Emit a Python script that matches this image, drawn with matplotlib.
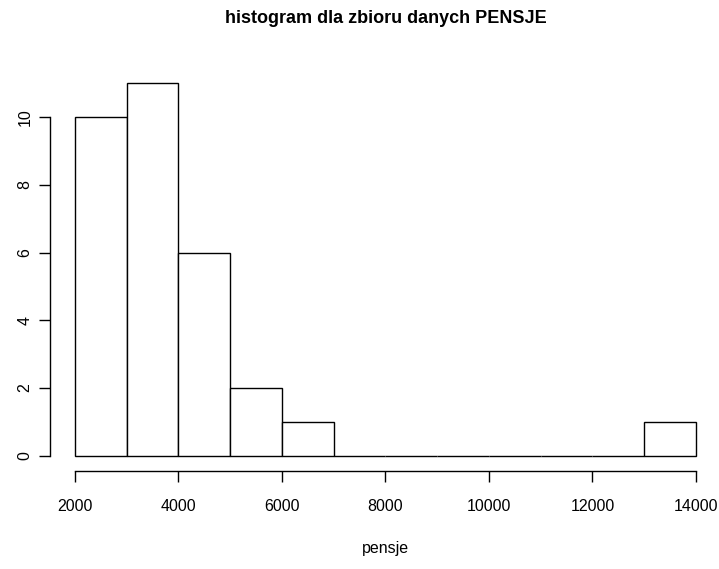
import matplotlib
matplotlib.use("Agg")
import matplotlib.pyplot as plt
import numpy as np
from matplotlib import font_manager

names = {f.name for f in font_manager.fontManager.ttflist}
fam = ['Liberation Sans Narrow', 'Liberation Sans', 'DejaVu Sans'] if 'Liberation Sans Narrow' in names else ['Liberation Sans', 'DejaVu Sans']
plt.rcParams['font.family'] = fam

bin_edges = [2000, 3000, 4000, 5000, 6000, 7000, 8000, 9000, 10000, 11000, 12000, 13000, 14000]
counts = [10, 11, 6, 2, 1, 0, 0, 0, 0, 0, 0, 1]
x_ticks = [2000, 4000, 6000, 8000, 10000, 12000, 14000]
y_ticks = [0, 2, 4, 6, 8, 10]
title = "histogram dla zbioru danych PENSJE"
xlabel = "pensje"

W, H = 719, 569
fig = plt.figure(figsize=(W / 100, H / 100), dpi=100)
left_px, right_px, top_px, bottom_px = 50, 720.8, 68.6, 470.5
ax = fig.add_axes([left_px / W, 1 - bottom_px / H, (right_px - left_px) / W, (bottom_px - top_px) / H])

edges = np.array(bin_edges)
ax.bar(edges[:-1], counts, width=np.diff(edges), align='edge',
       facecolor='white', edgecolor='black', linewidth=1.0)

xr = edges[-1] - edges[0]
ax.set_xlim(edges[0] - 0.04 * xr, edges[-1] + 0.04 * xr)
ym = max(counts)
ax.set_ylim(-0.04 * ym, ym * 1.04)

for s in ['top', 'right']:
    ax.spines[s].set_visible(False)
ax.spines['left'].set_bounds(y_ticks[0], y_ticks[-1])
ax.spines['bottom'].set_bounds(x_ticks[0], x_ticks[-1])
for s in ['left', 'bottom']:
    ax.spines[s].set_linewidth(1.0)

ax.set_xticks(x_ticks)
ax.set_xticklabels([str(t) for t in x_ticks], fontsize=11.5)
ax.set_yticks(y_ticks)
ax.set_yticklabels([str(t) for t in y_ticks], fontsize=11.5, rotation=90, va='center')
ax.tick_params(axis='both', length=8, width=1.0, direction='out')
ax.tick_params(axis='x', pad=12.5)
ax.tick_params(axis='y', pad=4.5)

cx = (left_px + right_px) / 2 / W
fig.text(cx, 1 - 18.5 / H, title, ha='center', va='center', fontsize=13, fontweight='bold')
fig.text(cx, 1 - 548 / H, xlabel, ha='center', va='center', fontsize=11.5)

fig.savefig("out.png", dpi=100)
